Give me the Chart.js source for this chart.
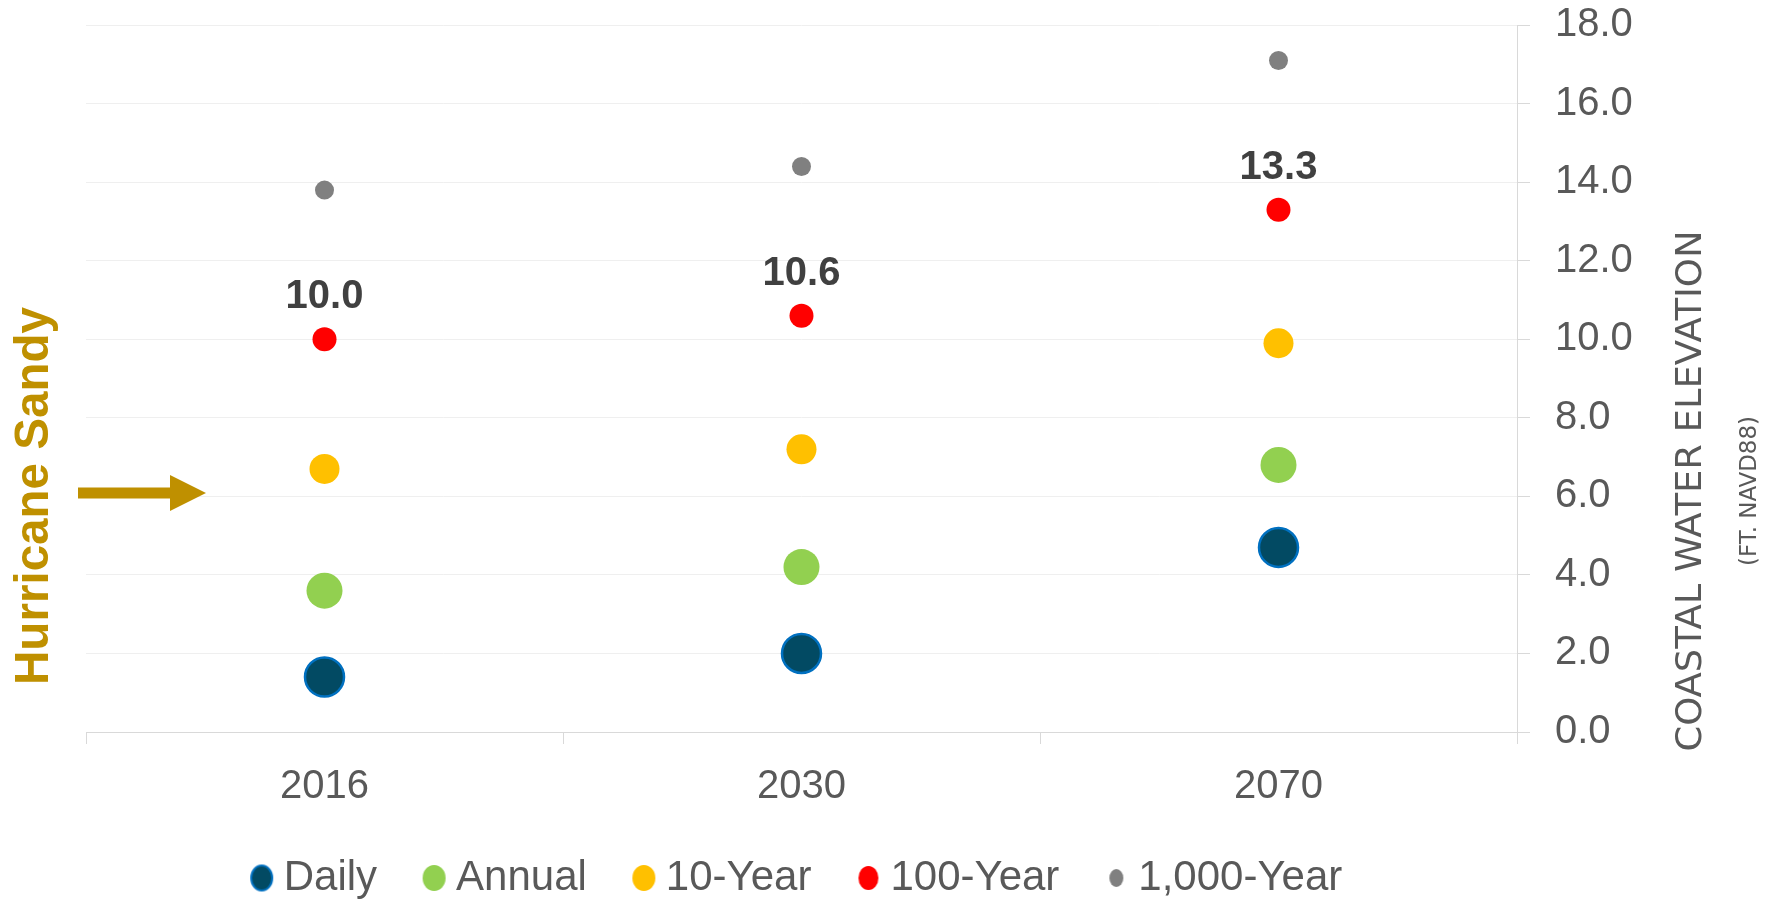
<!DOCTYPE html>
<html>
<head>
<meta charset="utf-8">
<title>Coastal water elevation</title>
<script src="https://cdn.jsdelivr.net/npm/chart.js@4.4.1/dist/chart.umd.min.js"></script>
<style>
  html, body { margin: 0; padding: 0; background: #fff; overflow: hidden; }
  #wrap { position: relative; width: 1766px; height: 909px; }
</style>
</head>
<body>
<div id="wrap"><canvas id="chart_coastal_elevation"></canvas></div>
<script>
// return-period water levels, ft NAVD88
const years = ['2016', '2030', '2070'];
const daily = [1.4, 2.0, 4.7];
const annual = [3.6, 4.2, 6.8];
const tenYear = [6.7, 7.2, 9.9];
const hundredYear = [10.0, 10.6, 13.3];
const thousandYear = [13.8, 14.4, 17.1];

const yMin = 0, yMax = 18, yStep = 2;

const sans = "'Liberation Sans', Arial, sans-serif";
const narrow = "'Liberation Sans Narrow', 'Arial Narrow', 'DejaVu Sans Condensed', sans-serif";
const gold = '#BF9000';
const grey = '#595959';

Chart.defaults.font.family = sans;

// small ellipse used as legend marker
const legendDot = (fill, stroke, w, h) => {
  let c = document.createElement('canvas');
  c.width = w + 4;
  c.height = h + 4;
  let g = c.getContext('2d');
  g.beginPath();
  g.ellipse(c.width / 2, c.height / 2, w / 2, h / 2, 0, 0, Math.PI * 2);
  g.fillStyle = fill;
  g.fill();
  if (stroke) {
    g.lineWidth = 2;
    g.strokeStyle = stroke;
    g.stroke();
  }
  return c;
};

const legendMarks = [
  legendDot('#024A63', '#0070C0', 21, 25),
  legendDot('#92D050', null, 23, 26),
  legendDot('#FFC000', null, 23, 26),
  legendDot('#FF0000', null, 20, 24),
  legendDot('#808080', null, 14, 18)
];

const drawRotated = (ctx, text, font, x, y, len) => {
  ctx.save();
  ctx.font = font;
  ctx.translate(x, y);
  ctx.rotate(-Math.PI / 2);
  ctx.scale(len / ctx.measureText(text).width, 1);
  ctx.fillText(text, 0, 0);
  ctx.restore();
};

// value labels over the 100-year points
const pointLabels = {
  id: 'pointLabels',
  afterDatasetsDraw(chart) {
    let { ctx } = chart;
    let meta = chart.getDatasetMeta(3);
    ctx.save();
    ctx.font = `bold 40px ${sans}`;
    ctx.fillStyle = '#404040';
    ctx.textAlign = 'center';
    ctx.textBaseline = 'alphabetic';
    meta.data.forEach((pt, i) => {
      ctx.fillText(hundredYear[i].toFixed(1), pt.x, pt.y - 31);
    });
    ctx.restore();
  }
};

// axis caption on the right and the storm marker on the left
const annotations = {
  id: 'annotations',
  afterDraw(chart) {
    let { ctx, chartArea } = chart;
    ctx.save();
    ctx.textAlign = 'center';
    ctx.textBaseline = 'alphabetic';

    ctx.fillStyle = grey;
    let cy = chartArea.bottom - 241;
    drawRotated(ctx, 'COASTAL WATER ELEVATION', `36px ${narrow}`, chartArea.right + 184, cy, 521);
    drawRotated(ctx, '(FT. NAVD88)', `23px ${narrow}`, chartArea.right + 239, cy, 150);

    ctx.fillStyle = gold;
    drawRotated(ctx, 'Hurricane Sandy', `bold 48px ${sans}`, chartArea.left - 38, chartArea.bottom - 236, 378);

    let ay = chartArea.bottom - 239, tip = chartArea.left + 120;
    ctx.beginPath();
    ctx.moveTo(chartArea.left - 8, ay - 5.5);
    ctx.lineTo(tip - 36, ay - 5.5);
    ctx.lineTo(tip - 36, ay - 18);
    ctx.lineTo(tip, ay);
    ctx.lineTo(tip - 36, ay + 18);
    ctx.lineTo(tip - 36, ay + 5.5);
    ctx.lineTo(chartArea.left - 8, ay + 5.5);
    ctx.closePath();
    ctx.fill();
    ctx.restore();
  }
};

let type = 'line',
    plugins = [pointLabels, annotations];

let data = {
  labels: years,
  datasets: [
    { label: 'Daily', data: daily, backgroundColor: '#024A63', borderColor: '#0070C0', pointBorderWidth: 2.5, pointRadius: 19.5 },
    { label: 'Annual', data: annual, backgroundColor: '#92D050', borderColor: '#92D050', pointBorderWidth: 0, pointRadius: 18 },
    { label: '10-Year', data: tenYear, backgroundColor: '#FFC000', borderColor: '#FFC000', pointBorderWidth: 0, pointRadius: 15 },
    { label: '100-Year', data: hundredYear, backgroundColor: '#FF0000', borderColor: '#FF0000', pointBorderWidth: 0, pointRadius: 12 },
    { label: '1,000-Year', data: thousandYear, backgroundColor: '#808080', borderColor: '#808080', pointBorderWidth: 0, pointRadius: 9.5 }
  ]
};

let options = {
  responsive: true,
  maintainAspectRatio: false,
  animation: false,
  events: [],
  showLine: false,
  layout: { padding: { left: 86, top: 1, right: 0, bottom: 0 } },
  scales: {
    x: {
      offset: true,
      afterFit: (scale) => { scale.height = 69; },
      grid: { offset: true, drawOnChartArea: false, tickLength: 12, tickColor: '#d9d9d9' },
      border: { color: '#d9d9d9' },
      ticks: { color: grey, padding: 19, font: { size: 40 } }
    },
    y: {
      position: 'right',
      min: yMin,
      max: yMax,
      afterFit: (scale) => { scale.width = 249; },
      grid: { color: '#efefef', tickColor: '#d9d9d9', tickLength: 13 },
      border: { color: '#d9d9d9' },
      ticks: {
        stepSize: yStep,
        autoSkip: false,
        color: grey,
        padding: 25,
        // tight line height keeps the top label from pushing the plot down
        font: { size: 40, lineHeight: 0.01 },
        callback: (v) => v.toFixed(1)
      }
    }
  },
  plugins: {
    tooltip: { enabled: false },
    legend: {
      position: 'bottom',
      fullSize: false,
      labels: {
        usePointStyle: true,
        boxWidth: 2,
        boxHeight: 2,
        padding: 56,
        color: grey,
        font: { size: 42 },
        generateLabels: (chart) => chart.data.datasets.map((ds, i) => ({
          text: ds.label,
          pointStyle: legendMarks[i],
          fontColor: grey,
          hidden: false,
          datasetIndex: i
        }))
      }
    }
  }
};

new Chart('chart_coastal_elevation', { type, plugins, data, options });
</script>
</body>
</html>
